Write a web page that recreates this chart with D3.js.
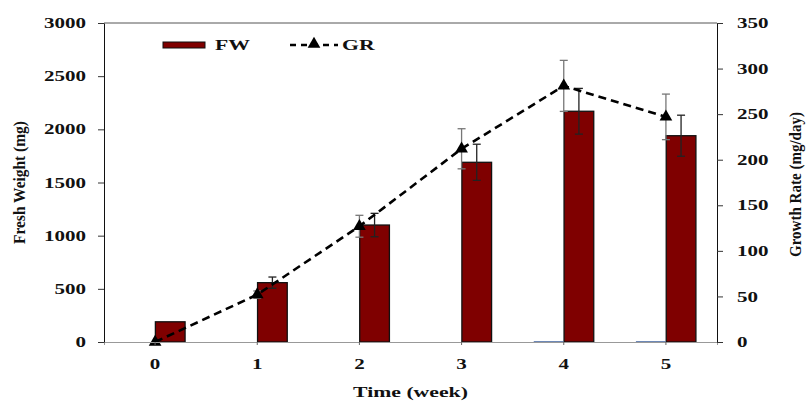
<!DOCTYPE html>
<html>
<head>
<meta charset="utf-8">
<script src="https://cdn.jsdelivr.net/npm/d3@7.8.5/dist/d3.min.js"></script>
<style>
  body { margin: 0; background: #fff; }
  svg text { font-family: "Liberation Serif", "DejaVu Serif", serif !important; font-weight: bold; fill: #111; }
</style>
</head>
<body>
<svg id="chart" width="806" height="401"></svg>
<script>
// Data
const weeks = ["0", "1", "2", "3", "4", "5"];
const freshWeight = [190, 558, 1100, 1690, 2170, 1940];
const freshWeightErr = [0, 53, 110, 170, 215, 193];
const growthRate = [0, 52, 127, 212, 281, 247];
const growthRateErr = [0, 4, 12, 22, 28, 25];
const blankSeries = [null, null, null, null, 0, 0];
const fwTicks = [0, 500, 1000, 1500, 2000, 2500, 3000];
const grTicks = [0, 50, 100, 150, 200, 250, 300, 350];

const svg = d3.select("#chart");
const margin = { top: 23, right: 89, bottom: 59, left: 104 };
const width = 806 - margin.left - margin.right;
const height = 401 - margin.top - margin.bottom;
const stretch = 1.45; // the original text is drawn wide

const g = svg.append("g").attr("transform", `translate(${margin.left},${margin.top})`);

const x = d3.scaleBand().domain(weeks).range([0, width]);
const xSub = d3.scaleBand().domain(["blank", "FW"]).range([-30, 30]).paddingInner(0.02);
const yL = d3.scaleLinear().domain([0, 3000]).range([height, 0]);
const yR = d3.scaleLinear().domain([0, 350]).range([height, 0]);
const cx = (i) => x(weeks[i]) + x.bandwidth() / 2;

// top border
g.append("line")
  .attr("x1", 0).attr("x2", width).attr("y1", 0).attr("y2", 0)
  .attr("stroke", "#555").attr("stroke-width", 1);

// bars
g.append("g")
  .selectAll("rect")
  .data(freshWeight)
  .join("rect")
  .attr("x", (d, i) => cx(i) + xSub("FW"))
  .attr("y", (d) => yL(d))
  .attr("width", xSub.bandwidth())
  .attr("height", (d) => yL(0) - yL(d))
  .attr("fill", "#7f0000")
  .attr("stroke", "#111")
  .attr("stroke-width", 1.3);

// empty first series (shows as blue baseline)
g.append("g")
  .selectAll("line")
  .data(blankSeries.map((v, i) => ({ v, i })).filter((d) => d.v !== null))
  .join("line")
  .attr("x1", (d) => cx(d.i) + xSub("blank"))
  .attr("x2", (d) => cx(d.i) + xSub("blank") + xSub.bandwidth())
  .attr("y1", (d) => yL(d.v))
  .attr("y2", (d) => yL(d.v))
  .attr("stroke", "#2f5597")
  .attr("stroke-width", 1.4);

// FW error bars
const fwErr = g.append("g").attr("stroke", "#222").attr("stroke-width", 1.3);
freshWeight.forEach((v, i) => {
  const e = freshWeightErr[i];
  if (!e) return;
  const ex = cx(i) + xSub("FW") + xSub.bandwidth() / 2;
  fwErr.append("line").attr("x1", ex).attr("x2", ex).attr("y1", yL(v + e)).attr("y2", yL(v - e));
  fwErr.append("line").attr("x1", ex - 4).attr("x2", ex + 4).attr("y1", yL(v + e)).attr("y2", yL(v + e));
  fwErr.append("line").attr("x1", ex - 4).attr("x2", ex + 4).attr("y1", yL(v - e)).attr("y2", yL(v - e));
});

// GR error bars
const grErr = g.append("g").attr("stroke", "#777").attr("stroke-width", 1.3);
growthRate.forEach((v, i) => {
  const e = growthRateErr[i];
  if (!e) return;
  const ex = cx(i);
  grErr.append("line").attr("x1", ex).attr("x2", ex).attr("y1", yR(v + e)).attr("y2", yR(v - e));
  grErr.append("line").attr("x1", ex - 4).attr("x2", ex + 4).attr("y1", yR(v + e)).attr("y2", yR(v + e));
  grErr.append("line").attr("x1", ex - 4).attr("x2", ex + 4).attr("y1", yR(v - e)).attr("y2", yR(v - e));
});

// GR line
const line = d3.line().x((d, i) => cx(i)).y((d) => yR(d));
g.append("path")
  .datum(growthRate)
  .attr("d", line)
  .attr("fill", "none")
  .attr("stroke", "#000")
  .attr("stroke-width", 2.6)
  .attr("stroke-dasharray", "8,5");

const tri = d3.symbol().type(d3.symbolTriangle).size(70);
g.append("g")
  .selectAll("path")
  .data(growthRate)
  .join("path")
  .attr("d", tri)
  .attr("transform", (d, i) => `translate(${cx(i)},${yR(d)})`)
  .attr("fill", "#000");

// axes
const xAxis = g.append("g")
  .attr("transform", `translate(0,${height})`)
  .call(d3.axisBottom(x).tickSize(3).tickPadding(14));
xAxis.select(".domain").attr("stroke", "#999");
xAxis.selectAll(".tick line").attr("stroke", "#666");
xAxis.selectAll("text").attr("font-size", 14.5).attr("transform", `scale(${stretch},1)`);

const yAxisL = g.append("g")
  .call(d3.axisLeft(yL).tickValues(fwTicks).tickFormat(d3.format("d")).tickSize(6).tickSizeOuter(0));
yAxisL.select(".domain").attr("stroke", "#111");
yAxisL.selectAll(".tick line").attr("stroke", "#333");
yAxisL.selectAll("text")
  .attr("font-size", 14.5)
  .attr("x", -18 / stretch)
  .attr("transform", `scale(${stretch},1)`);

const yAxisR = g.append("g")
  .attr("transform", `translate(${width},0)`)
  .call(d3.axisRight(yR).tickValues(grTicks).tickFormat(d3.format("d")).tickSize(6).tickSizeOuter(0));
yAxisR.select(".domain").attr("stroke", "#111");
yAxisR.selectAll(".tick line").attr("stroke", "#333");
yAxisR.selectAll("text")
  .attr("font-size", 14.5)
  .attr("x", 20 / stretch)
  .attr("transform", `scale(${stretch},1)`);

// axis titles
svg.append("text")
  .attr("transform", `translate(25,${margin.top + height / 2}) rotate(-90)`)
  .attr("text-anchor", "middle")
  .attr("font-size", 17)
  .attr("textLength", 123)
  .attr("lengthAdjust", "spacingAndGlyphs")
  .text("Fresh Weight (mg)");

svg.append("text")
  .attr("transform", `translate(801,${margin.top + height / 2 + 2}) rotate(-90)`)
  .attr("text-anchor", "middle")
  .attr("font-size", 16)
  .attr("textLength", 145)
  .attr("lengthAdjust", "spacingAndGlyphs")
  .text("Growth Rate (mg/day)");

svg.append("text")
  .attr("x", (margin.left + width / 2) / stretch)
  .attr("y", 397)
  .attr("transform", `scale(${stretch},1)`)
  .attr("text-anchor", "middle")
  .attr("font-size", 15)
  .text("Time (week)");

// legend
const lg = svg.append("g");
lg.append("rect")
  .attr("x", 163).attr("y", 42).attr("width", 42).attr("height", 6)
  .attr("fill", "#7f0000").attr("stroke", "#111").attr("stroke-width", 1);
lg.append("text").attr("x", 215 / stretch).attr("y", 50).attr("transform", `scale(${stretch},1)`).attr("font-size", 15).text("FW");
lg.append("line")
  .attr("x1", 290).attr("x2", 338).attr("y1", 45).attr("y2", 45)
  .attr("stroke", "#000").attr("stroke-width", 2.6).attr("stroke-dasharray", "6,5");
lg.append("path").attr("d", tri).attr("transform", "translate(314,44)").attr("fill", "#000");
lg.append("text").attr("x", 342 / stretch).attr("y", 50).attr("transform", `scale(${stretch},1)`).attr("font-size", 15).text("GR");
</script>
</body>
</html>
